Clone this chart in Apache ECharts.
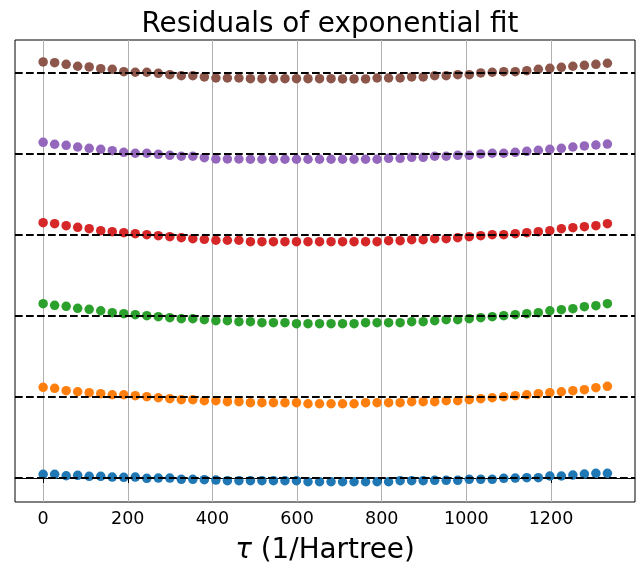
<!DOCTYPE html>
<html>
<head>
<meta charset="utf-8">
<script src="https://cdn.jsdelivr.net/npm/echarts@6/dist/echarts.min.js"></script>
<style>
  html, body { margin: 0; padding: 0; background: #fff; }
  #chart { width: 644px; height: 575px; }
</style>
</head>
<body>
<div id="chart"></div>
<script>
// tau grid (1/Hartree)
var tau = [0, 27.2, 54.4, 81.6, 108.8, 136.1, 163.3, 190.5, 217.7, 244.9,
    272.1, 299.3, 326.5, 353.7, 380.9, 408.2, 435.4, 462.6, 489.8, 517.0,
    544.2, 571.4, 598.6, 625.8, 653.1, 680.3, 707.5, 734.7, 761.9, 789.1,
    816.3, 843.5, 870.8, 898.0, 925.2, 952.4, 979.6, 1006.8, 1034.0, 1061.2,
    1088.4, 1115.6, 1142.8, 1170.1, 1197.3, 1224.5, 1251.7, 1278.9, 1306.1, 1333.3];

var xTicks = [0, 200, 400, 600, 800, 1000, 1200];

// vertical offset of each curve
var offsets = [0, 1, 2, 3, 4, 5];
var colors = ['#1f77b4', '#ff7f0e', '#2ca02c', '#d62728', '#9467bd', '#8c564b'];

// residuals of each curve
var res0 = [0.046, 0.046, 0.028, 0.033, 0.021, 0.021, 0.012, 0.009, 0.012, -0.004,
    0, 0, -0.016, -0.016, -0.021, -0.025, -0.033, -0.033, -0.033, -0.033,
    -0.033, -0.033, -0.033, -0.046, -0.046, -0.046, -0.046, -0.046, -0.046, -0.046,
    -0.046, -0.033, -0.033, -0.033, -0.028, -0.028, -0.028, -0.016, -0.016, -0.016,
    -0.004, 0, 0.004, 0.004, 0.025, 0.025, 0.037, 0.049, 0.058, 0.058];
var res1 = [0.120, 0.107, 0.078, 0.065, 0.053, 0.041, 0.028, 0.028, 0.016, 0.004,
    -0.009, -0.021, -0.033, -0.033, -0.046, -0.046, -0.058, -0.058, -0.070, -0.070,
    -0.070, -0.070, -0.070, -0.083, -0.083, -0.083, -0.083, -0.083, -0.070, -0.070,
    -0.070, -0.070, -0.058, -0.058, -0.058, -0.046, -0.046, -0.033, -0.021, -0.009,
    0.004, 0.016, 0.028, 0.041, 0.053, 0.065, 0.078, 0.090, 0.115, 0.132];
var res2 = [0.152, 0.132, 0.120, 0.095, 0.083, 0.065, 0.041, 0.028, 0.016, 0.004,
    -0.009, -0.021, -0.033, -0.033, -0.046, -0.058, -0.058, -0.070, -0.070, -0.083,
    -0.083, -0.083, -0.095, -0.095, -0.095, -0.095, -0.095, -0.095, -0.083, -0.083,
    -0.083, -0.083, -0.070, -0.070, -0.058, -0.046, -0.046, -0.033, -0.021, -0.009,
    0.004, 0.016, 0.028, 0.041, 0.065, 0.078, 0.090, 0.115, 0.127, 0.152];
var res3 = [0.152, 0.140, 0.115, 0.095, 0.078, 0.053, 0.041, 0.028, 0.016, 0.004,
    -0.009, -0.021, -0.033, -0.046, -0.053, -0.065, -0.065, -0.065, -0.083, -0.083,
    -0.083, -0.083, -0.083, -0.083, -0.083, -0.083, -0.083, -0.083, -0.083, -0.083,
    -0.070, -0.070, -0.058, -0.058, -0.046, -0.046, -0.033, -0.021, -0.009, 0.004,
    0.004, 0.016, 0.028, 0.041, 0.053, 0.078, 0.090, 0.102, 0.115, 0.140];
var res4 = [0.144, 0.120, 0.107, 0.086, 0.070, 0.058, 0.041, 0.021, 0.009, 0.009,
    -0.004, -0.016, -0.028, -0.028, -0.046, -0.062, -0.062, -0.062, -0.065, -0.065,
    -0.065, -0.065, -0.065, -0.065, -0.065, -0.065, -0.065, -0.065, -0.065, -0.065,
    -0.053, -0.053, -0.041, -0.041, -0.028, -0.028, -0.016, -0.016, 0, 0.009,
    0.009, 0.021, 0.033, 0.046, 0.058, 0.070, 0.086, 0.099, 0.111, 0.123];
var res5 = [0.136, 0.127, 0.107, 0.083, 0.074, 0.053, 0.046, 0.016, 0.009, 0.009,
    -0.004, -0.021, -0.033, -0.033, -0.049, -0.062, -0.062, -0.062, -0.070, -0.070,
    -0.070, -0.070, -0.070, -0.070, -0.070, -0.070, -0.074, -0.074, -0.074, -0.062,
    -0.062, -0.062, -0.049, -0.049, -0.033, -0.033, -0.021, -0.021, 0, 0.009,
    0.016, 0.016, 0.028, 0.046, 0.058, 0.070, 0.083, 0.095, 0.107, 0.120];

var residuals = [res0, res1, res2, res3, res4, res5];

var myChart = echarts.init(document.getElementById('chart'));

var series = [];
residuals.forEach(function (r, k) {
    series.push({
        type: 'scatter',
        symbolSize: 9.5,
        itemStyle: { color: colors[k], opacity: 1 },
        z: 2,
        data: tau.map(function (t, i) { return [t, offsets[k] + r[i]]; })
    });
});
// dashed zero lines on top
series.push({
    type: 'scatter',
    data: [],
    z: 5,
    markLine: {
        silent: true,
        symbol: 'none',
        label: { show: false },
        lineStyle: { color: '#000', width: 2, type: [7.7, 3.3] },
        data: offsets.map(function (o) { return { yAxis: o }; })
    }
});

var option = {
    animation: false,
    textStyle: { fontFamily: 'DejaVu Sans' },
    title: {
        text: 'Residuals of exponential fit',
        left: 325,
        textAlign: 'center',
        top: 6,
        textStyle: { fontSize: 27.8, fontWeight: 'normal', color: '#000', fontFamily: 'DejaVu Sans' }
    },
    grid: {
        left: 15, right: 9, top: 40, bottom: 73,
        show: true, borderColor: '#000', borderWidth: 1, backgroundColor: 'transparent'
    },
    xAxis: {
        type: 'value',
        min: -66.5,
        max: 1398.5,
        name: '{i|τ} (1/Hartree)',
        nameLocation: 'middle',
        nameGap: 35,
        nameTextStyle: {
            fontSize: 27.8, color: '#000', fontFamily: 'DejaVu Sans',
            rich: { i: { fontSize: 27.8, fontStyle: 'italic', color: '#000', fontFamily: 'DejaVu Sans' } }
        },
        axisLine: { show: true, lineStyle: { color: '#000', width: 1 } },
        axisTick: { show: true, customValues: xTicks, length: 5, lineStyle: { color: '#000' } },
        axisLabel: {
            customValues: xTicks, fontSize: 17.5, color: '#000', margin: 8,
            formatter: function (v) { return String(v); }
        },
        splitLine: { show: true, lineStyle: { color: '#b0b0b0', width: 1 } }
    },
    yAxis: {
        type: 'value',
        min: -0.296,
        max: 5.407,
        axisLine: { show: false },
        axisTick: { show: false },
        axisLabel: { show: false },
        splitLine: { show: false }
    },
    series: series
};

myChart.setOption(option);
</script>
</body>
</html>
